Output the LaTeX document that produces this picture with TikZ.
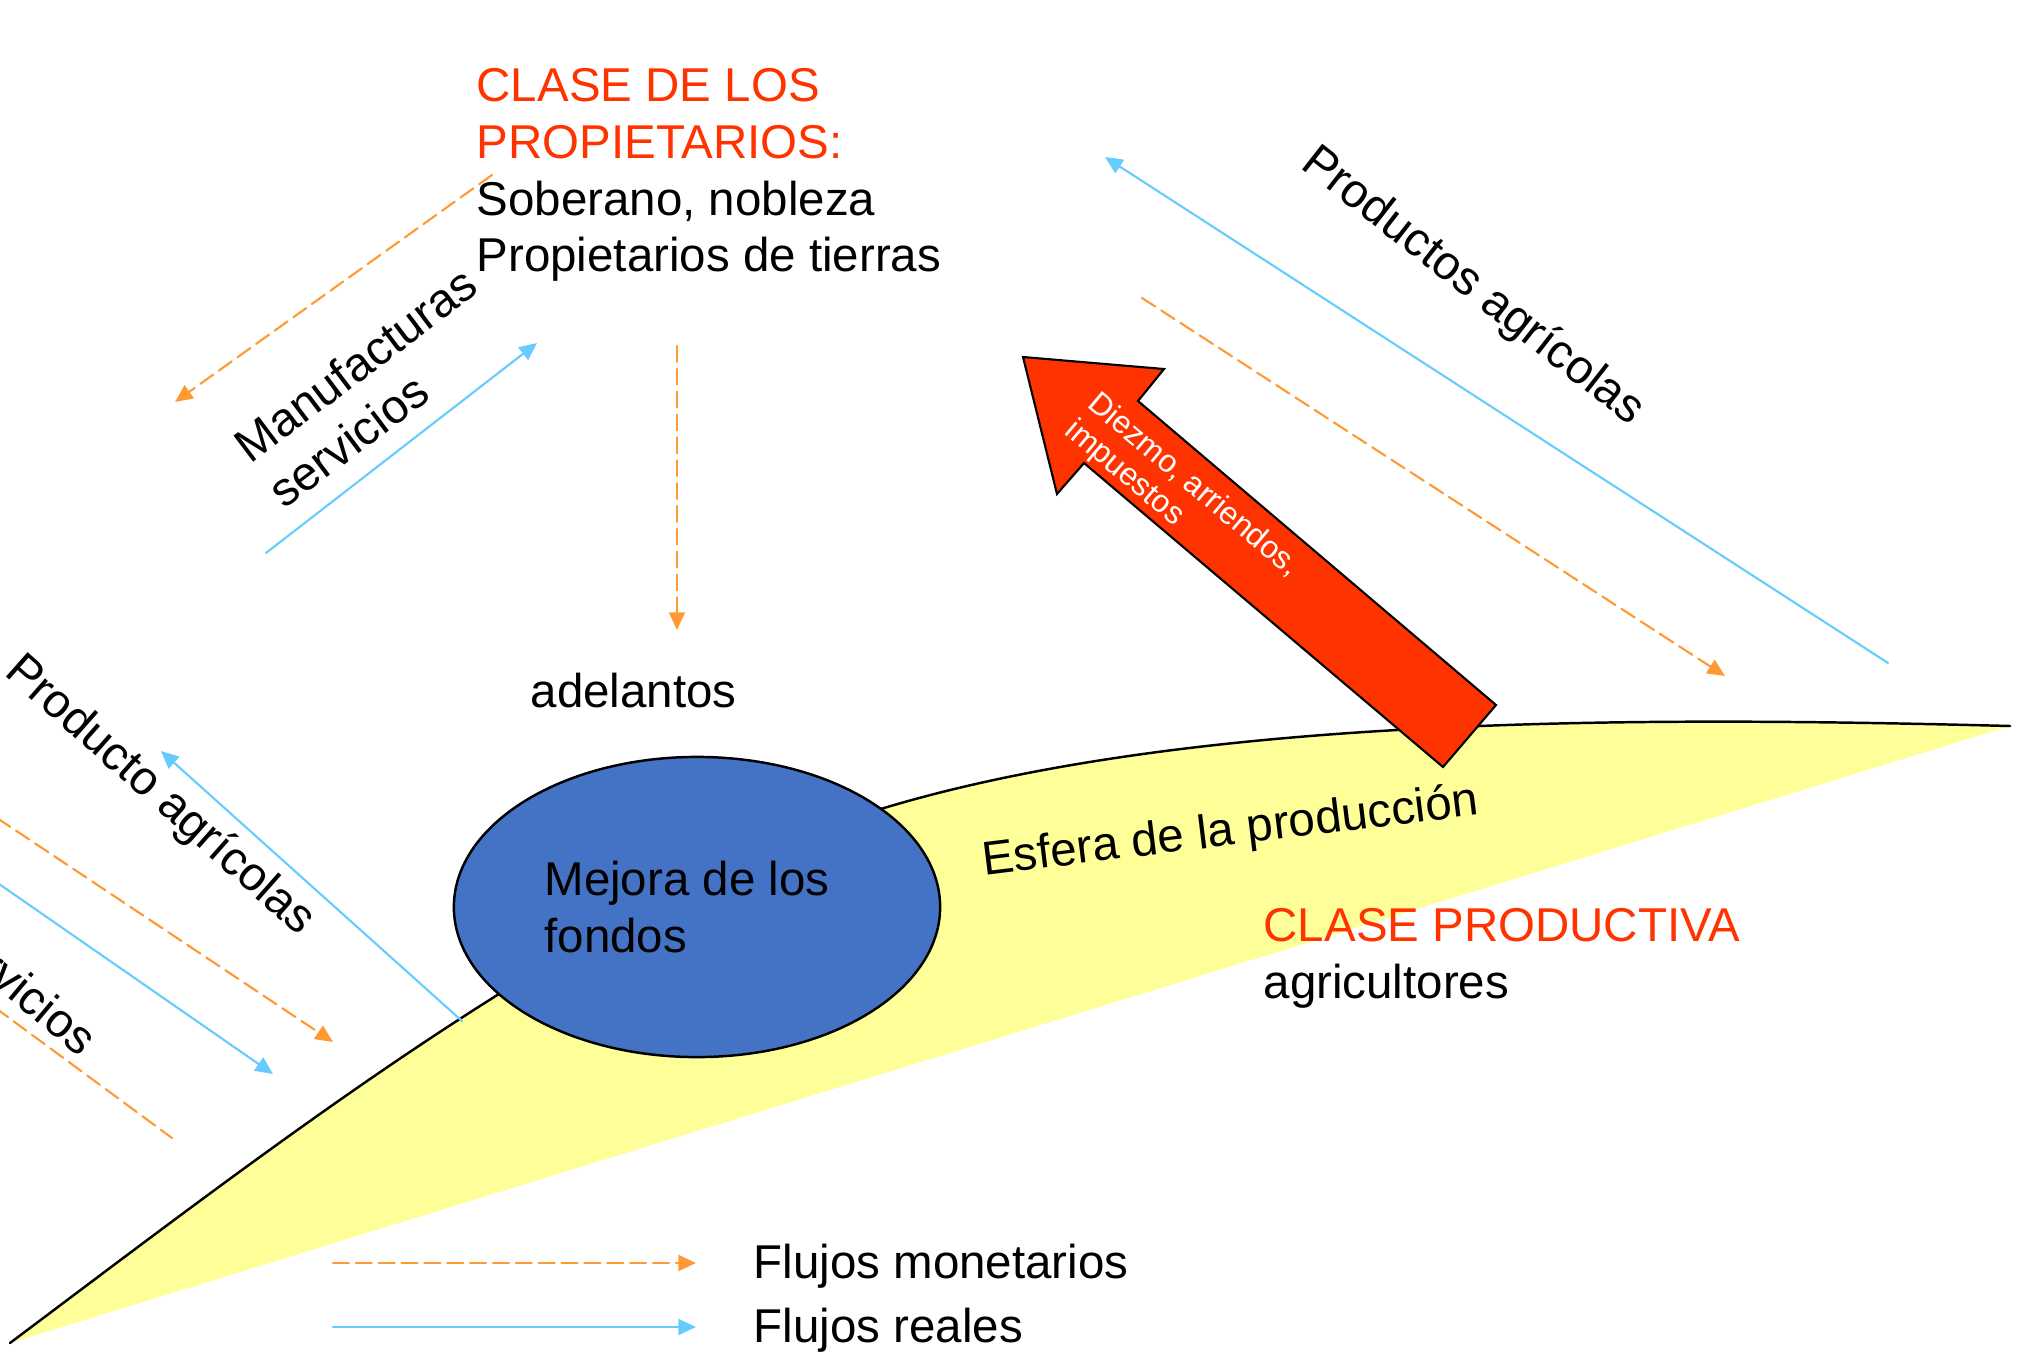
\documentclass[tikz,border=0pt]{standalone}
\usepackage{fontspec}
\setmainfont{Liberation Sans}
\usetikzlibrary{arrows.meta}
\usetikzlibrary{shapes.geometric}
\definecolor{clasered}{RGB}{255,51,0}
\definecolor{moneyorange}{RGB}{255,153,51}
\definecolor{realblue}{RGB}{102,204,255}
\definecolor{fondoblue}{RGB}{68,114,196}
\definecolor{esferayellow}{RGB}{255,255,153}
\tikzset{
  moneyflow/.style={color=moneyorange, line width=0.6pt, dash pattern=on 4.5pt off 2pt},
  realflow/.style={color=realblue, line width=0.6pt},
  flowtip/.style={-{Triangle[length=5pt,width=4.5pt]}},
  txt/.style={inner sep=0pt, font=\fontsize{13.5}{16.1}\selectfont},
}

\begin{document}
\begin{tikzpicture}[line cap=round,line join=round, x=0.01cm, y=-0.01cm]
\useasboundingbox (0,0) rectangle (2033,1351);
\clip (0,0) rectangle (2033,1351);
% esfera de la produccion
\fill [esferayellow] (10,1343) .. controls (290,1133) and (597,894) .. (884,808) .. controls (1200,713) and (1660,717) .. (2010,726) -- cycle;
\draw [line width=0.7pt] (10,1343) .. controls (290,1133) and (597,894) .. (884,808) .. controls (1200,713) and (1660,717) .. (2010,726);
% ends of the flows
\coordinate (mfA) at (492,175);   \coordinate (mfB) at (175,402);
\coordinate (svA) at (266,553);   \coordinate (svB) at (537,343);
\coordinate (adA) at (677,346);   \coordinate (adB) at (677,630);
\coordinate (prA) at (1888,663);  \coordinate (prB) at (1105,157);
\coordinate (pmA) at (1142,298);  \coordinate (pmB) at (1725,676);
\coordinate (lpA) at (462,1021);  \coordinate (lpB) at (161,751);
\coordinate (lmA) at (-60,780);   \coordinate (lmB) at (333,1042);
\coordinate (lrA) at (-60,843);   \coordinate (lrB) at (273,1074);
\coordinate (lsA) at (-60,967);   \coordinate (lsB) at (172,1138);
\coordinate (lgA) at (333,1263);  \coordinate (lgB) at (696,1263);
\coordinate (lgC) at (333,1327);  \coordinate (lgD) at (696,1327);
\draw [moneyflow, flowtip] (mfA) -- (mfB);
\draw [realflow, flowtip] (svA) -- (svB);
\draw [moneyflow, flowtip] (adA) -- (adB);
\draw [realflow, flowtip] (prA) -- (prB);
\draw [moneyflow, flowtip] (pmA) -- (pmB);
\draw [realflow, flowtip] (lpA) -- (lpB);
\draw [moneyflow, flowtip] (lmA) -- (lmB);
\draw [realflow, flowtip] (lrA) -- (lrB);
\draw [moneyflow] (lsA) -- (lsB);
% leyenda
\draw [moneyflow, flowtip, line width=0.75pt] (lgA) -- (lgB);
\draw [realflow, flowtip, line width=0.75pt] (lgC) -- (lgD);
\node [txt, anchor=base west] (monetarios) at (753,1278) {Flujos monetarios};
\node [txt, anchor=base west] (reales) at (753,1342) {Flujos reales};
% fondos
\node [ellipse, draw, line width=0.7pt, fill=fondoblue, minimum width=4.86cm, minimum height=3cm, inner sep=0pt, txt, align=left] (fondos) at (697,907) {Mejora de los\hspace*{0.2cm}\\fondos};
% diezmo
\filldraw [fill=clasered, draw=black, line width=0.6pt, line join=miter] (1023,357) -- (1164,369) -- (1138,401) -- (1496,705) -- (1443,767) -- (1084,463) -- (1057,494) -- cycle;
\node [txt, font=\fontsize{9}{10}\selectfont, text=white, align=left, rotate=-40, anchor=north west] (diezmo) at (1101,388) {Diezmo, arriendos,\\impuestos};
% textos
\node [txt, align=left, anchor=north west] (propietarios) at (476,68) {\textcolor{clasered}{CLASE DE LOS}\\\textcolor{clasered}{PROPIETARIOS:}\\Soberano, nobleza\\Propietarios de tierras};
\node [txt, anchor=base west] (adelantos) at (530,707) {adelantos};
\node [txt, align=left, rotate=37, anchor=north west] (manufacturas) at (229,437) {Manufacturas\\servicios};
\node [txt, rotate=-38, anchor=base west] (productos) at (1299,167) {Productos agrícolas};
\node [txt, rotate=-41.5, anchor=base east] (producto) at (300,937) {Producto agrícolas};
\node [txt, rotate=-40, anchor=base east] (servicios) at (80,1058) {servicios};
\node [txt, rotate=7, anchor=base] (esfera) at (1232,845) {Esfera de la producción};
\node [txt, align=left, anchor=north west] (productiva) at (1263,908) {\textcolor{clasered}{CLASE PRODUCTIVA}\\agricultores};
\end{tikzpicture}
\end{document}
